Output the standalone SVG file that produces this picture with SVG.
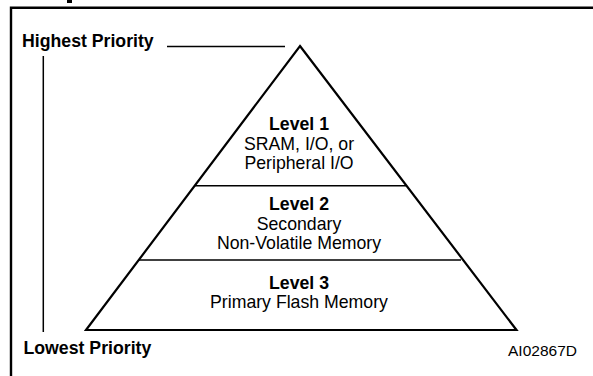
<svg xmlns="http://www.w3.org/2000/svg" width="593" height="376" viewBox="0 0 593 376">
<style>
.b{font-family:"Liberation Sans",Arial,sans-serif;font-weight:bold;font-size:17.7px;fill:#000}
.r{font-family:"Liberation Sans",Arial,sans-serif;font-size:17.7px;fill:#000}
.c{text-anchor:middle}
.ln{stroke:#000;fill:none}
</style>
<rect width="593" height="376" fill="#fff"/>
<g id="frame">
<rect x="67" y="0" width="5" height="3" fill="#000"/>
<path class="ln" d="M11,400 V7.8 H600" stroke-width="2.4"/>
</g>
<g id="connectors">
<line class="ln" x1="167" y1="46.5" x2="285" y2="46.5" stroke-width="1.5"/>
<line class="ln" x1="43.3" y1="56" x2="43.3" y2="332" stroke-width="1.5"/>
</g>
<g id="pyramid">
<polygon class="ln" points="300,46 516.5,330 86,330" stroke-width="2.2" stroke-linejoin="miter"/>
<line class="ln" x1="194" y1="185.8" x2="406" y2="185.8" stroke-width="1.6"/>
<line class="ln" x1="139" y1="260" x2="461" y2="260" stroke-width="1.6"/>
</g>
<g id="level1">
<text class="b c" x="299" y="130">Level 1</text>
<text class="r c" x="299" y="149.5">SRAM, I/O, or</text>
<text class="r c" x="299" y="168.5">Peripheral I/O</text>
</g>
<g id="level2">
<text class="b c" x="299" y="210">Level 2</text>
<text class="r c" x="299" y="229.5">Secondary</text>
<text class="r c" x="299" y="248.5">Non-Volatile Memory</text>
</g>
<g id="level3">
<text class="b c" x="299" y="289">Level 3</text>
<text class="r c" x="299" y="308">Primary Flash Memory</text>
</g>
<g id="highest">
<text class="b" x="22" y="46.5">Highest Priority</text>
</g>
<g id="lowest">
<text class="b" x="23.5" y="353.5">Lowest Priority</text>
</g>
<g id="code">
<text class="r" x="508" y="356" style="font-size:15.5px">AI02867D</text>
</g>
</svg>
